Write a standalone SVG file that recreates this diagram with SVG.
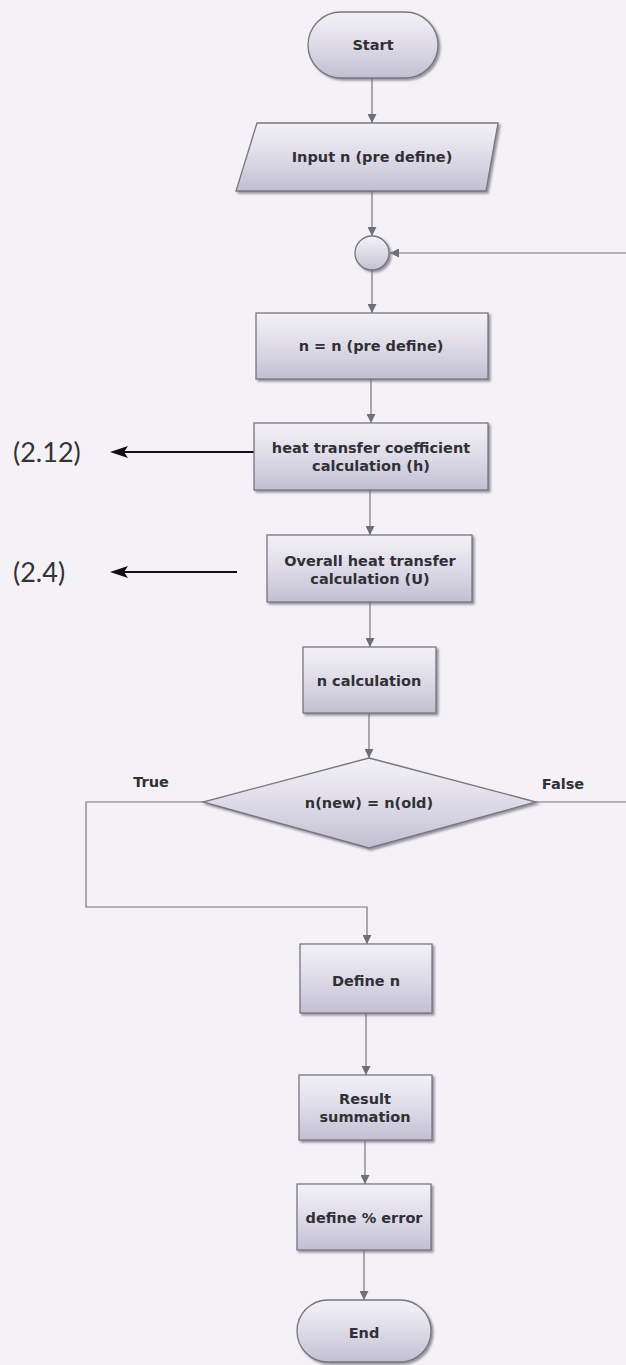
<svg xmlns="http://www.w3.org/2000/svg" width="626" height="1365" viewBox="0 0 626 1365">
  <defs>
    <linearGradient id="fillGrad" x1="0" y1="0" x2="0" y2="1">
      <stop offset="0" stop-color="#f3f1f7"/>
      <stop offset="0.5" stop-color="#dedbe8"/>
      <stop offset="1" stop-color="#c3bfd3"/>
    </linearGradient>
    <filter id="shadow" x="-10%" y="-10%" width="130%" height="130%">
      <feDropShadow dx="2" dy="2" stdDeviation="0.8" flood-color="#6e6c78" flood-opacity="0.7"/>
    </filter>
    <marker id="arrowGray" viewBox="0 0 10 10" refX="10" refY="5" markerWidth="9" markerHeight="9" markerUnits="userSpaceOnUse" orient="auto">
      <path d="M0,0 L10,5 L0,10 z" fill="#6f6f78"/>
    </marker>
  </defs>
  <style>
    .shape { fill: url(#fillGrad); stroke: #77767f; stroke-width: 1.3; filter: url(#shadow); }
    .lbl { font-family: "DejaVu Sans", Verdana, sans-serif; font-weight: bold; font-size: 14.5px; fill: #303036; text-anchor: middle; dominant-baseline: central; }
    .flow { fill: none; stroke: #76757e; stroke-width: 1.2; }
    .ref { fill: none; stroke: #111; stroke-width: 2; }
    .refhead { fill: #111; }
    .eq { font-family: Lato, "Open Sans", sans-serif; font-size: 27px; fill: #333; dominant-baseline: central; }
  </style>

  <rect width="626" height="1365" fill="#f4f2f7"/>

  <!-- connectors -->
  <g id="connectors">
    <line class="flow" x1="372" y1="78" x2="372" y2="123" marker-end="url(#arrowGray)"/>
    <line class="flow" x1="372" y1="191" x2="372" y2="236" marker-end="url(#arrowGray)"/>
    <line class="flow" x1="626" y1="253" x2="390" y2="253" marker-end="url(#arrowGray)"/>
    <line class="flow" x1="372" y1="270" x2="372" y2="313" marker-end="url(#arrowGray)"/>
    <line class="flow" x1="371" y1="379" x2="371" y2="423" marker-end="url(#arrowGray)"/>
    <line class="flow" x1="370" y1="490" x2="370" y2="535" marker-end="url(#arrowGray)"/>
    <line class="flow" x1="370" y1="602" x2="370" y2="647" marker-end="url(#arrowGray)"/>
    <line class="flow" x1="369" y1="713" x2="369" y2="758" marker-end="url(#arrowGray)"/>
    <polyline class="flow" points="203,802 86,802 86,907 367,907 367,944" marker-end="url(#arrowGray)"/>
    <line class="flow" x1="536" y1="802" x2="626" y2="802"/>
    <line class="flow" x1="366" y1="1013" x2="366" y2="1075" marker-end="url(#arrowGray)"/>
    <line class="flow" x1="365" y1="1140" x2="365" y2="1184" marker-end="url(#arrowGray)"/>
    <line class="flow" x1="364" y1="1250" x2="364" y2="1300" marker-end="url(#arrowGray)"/>
    <!-- links to the equations used in each step -->
    <line class="ref" x1="254" y1="452" x2="116" y2="452"/>
    <path class="refhead" d="M110,452 L128,446 L124,452 L128,458 z"/>
    <line class="ref" x1="237" y1="572" x2="116" y2="572"/>
    <path class="refhead" d="M110,572 L128,566 L124,572 L128,578 z"/>
    <text class="lbl" x="151" y="782">True</text>
    <text class="lbl" x="563" y="784">False</text>
  </g>

  <g id="start">
    <rect class="shape" x="308" y="12" width="130" height="66" rx="33"/>
    <text class="lbl" x="373" y="45">Start</text>
  </g>

  <g id="input">
    <polygon class="shape" points="257,123 498,123 486,191 236,191"/>
    <text class="lbl" x="372" y="157">Input n (pre define)</text>
  </g>

  <g id="junction">
    <circle class="shape" cx="372" cy="253" r="17"/>
  </g>

  <g id="set-n">
    <rect class="shape" x="256" y="313" width="232" height="66"/>
    <text class="lbl" x="371" y="346">n = n (pre define)</text>
  </g>

  <g id="calc-h">
    <rect class="shape" x="254" y="423" width="234" height="67"/>
    <text class="lbl" x="371" y="448">heat transfer coefficient</text>
    <text class="lbl" x="371" y="466">calculation (h)</text>
  </g>

  <g id="calc-u">
    <rect class="shape" x="267" y="535" width="205" height="67"/>
    <text class="lbl" x="370" y="561">Overall heat transfer</text>
    <text class="lbl" x="370" y="579">calculation (U)</text>
  </g>

  <g id="calc-n">
    <rect class="shape" x="303" y="647" width="133" height="66"/>
    <text class="lbl" x="369" y="681">n calculation</text>
  </g>

  <g id="decision">
    <polygon class="shape" points="369,758 536,802 369,848 203,802"/>
    <text class="lbl" x="369" y="803">n(new) = n(old)</text>
  </g>

  <g id="define-n">
    <rect class="shape" x="300" y="944" width="132" height="69"/>
    <text class="lbl" x="366" y="981">Define n</text>
  </g>

  <g id="result">
    <rect class="shape" x="299" y="1075" width="133" height="65"/>
    <text class="lbl" x="365" y="1099">Result</text>
    <text class="lbl" x="365" y="1117">summation</text>
  </g>

  <g id="error">
    <rect class="shape" x="297" y="1184" width="134" height="66"/>
    <text class="lbl" x="364" y="1218">define % error</text>
  </g>

  <g id="end">
    <rect class="shape" x="297" y="1300" width="134" height="62" rx="31"/>
    <text class="lbl" x="364" y="1333">End</text>
  </g>

  <g id="equation-refs">
    <text class="eq" x="13" y="451">(2.12)</text>
    <text class="eq" x="13" y="571">(2.4)</text>
  </g>
</svg>
